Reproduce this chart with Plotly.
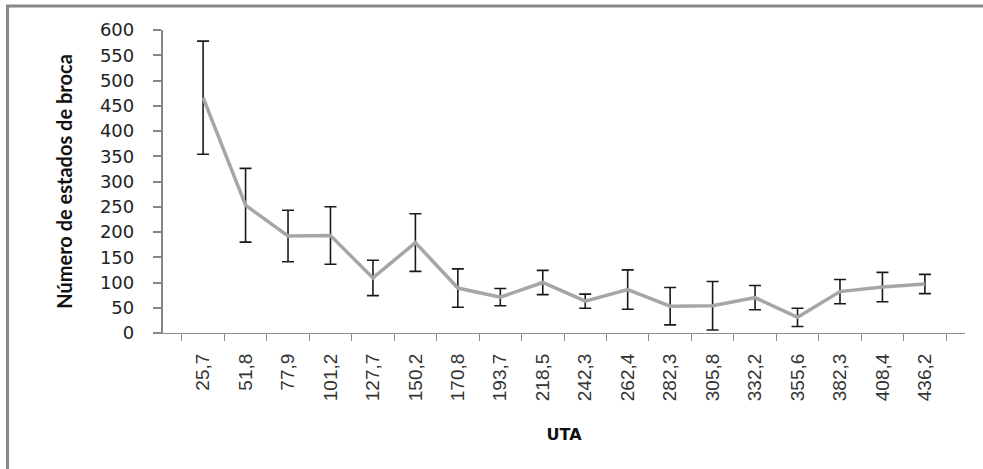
import plotly.graph_objects as go

uta = ["25,7", "51,8", "77,9", "101,2", "127,7", "150,2", "170,8", "193,7", "218,5",
       "242,3", "262,4", "282,3", "305,8", "332,2", "355,6", "382,3", "408,4", "436,2"]
broca = [466, 253, 192, 193, 109, 179, 89, 71, 100, 63, 86, 53, 54, 70, 31, 82, 91, 97]
broca_err = [112, 73, 51, 57, 35, 57, 38, 17, 24, 14, 39, 37, 48, 24, 18, 24, 29, 19]
y_ticks = [0, 50, 100, 150, 200, 250, 300, 350, 400, 450, 500, 550, 600]

fig = go.Figure()
fig.add_trace(go.Scatter(
    x=uta, y=broca, mode="lines",
    line=dict(color="#A6A6A6", width=3.5),
    error_y=dict(type="data", array=broca_err, visible=True,
                 color="#1a1a1a", thickness=1.6, width=6),
    showlegend=False,
))

W, H = 983, 469
L, R, T, B = 163, 18, 30, 136
pw, ph = W - L - R, H - T - B

def px_x(x):
    return (x - L) / pw

def px_y(y):
    return (H - B - y) / ph

fig.update_layout(
    width=W, height=H,
    margin=dict(l=L, r=R, t=T, b=B),
    paper_bgcolor="white", plot_bgcolor="white",
    xaxis=dict(
        type="category", tickson="boundaries",
        showgrid=False, zeroline=False,
        showline=True, linecolor="#8c8c8c", linewidth=1.2,
        ticks="outside", ticklen=7, tickcolor="#8c8c8c", tickwidth=1.2,
        tickangle=-90, ticklabelstandoff=12,
        tickfont=dict(family="Liberation Sans", size=19, color="#333333"),
        title=dict(text="UTA", standoff=28,
                   font=dict(family="DejaVu Sans", size=16, color="#111111", weight="bold")),
    ),
    yaxis=dict(
        range=[0, 600], tickvals=y_ticks,
        showgrid=False, zeroline=False,
        showline=True, linecolor="#868686", linewidth=2.3,
        ticks="outside", ticklen=8, tickcolor="#868686", tickwidth=1.5,
        ticklabelstandoff=15,
        tickfont=dict(family="DejaVu Sans", size=18, color="#222222"),
        title=dict(text="Número de estados de broca", standoff=22,
                   font=dict(family="Lato", size=20, color="#111111", weight="bold")),
    ),
    shapes=[
        dict(type="line", xref="paper", yref="paper",
             x0=px_x(7.5), x1=px_x(7.5), y0=px_y(5), y1=px_y(469),
             line=dict(color="#888888", width=3)),
        dict(type="line", xref="paper", yref="paper",
             x0=px_x(6), x1=px_x(983), y0=px_y(6), y1=px_y(6),
             line=dict(color="#888888", width=3)),
    ],
)

fig.write_html("out.html")
